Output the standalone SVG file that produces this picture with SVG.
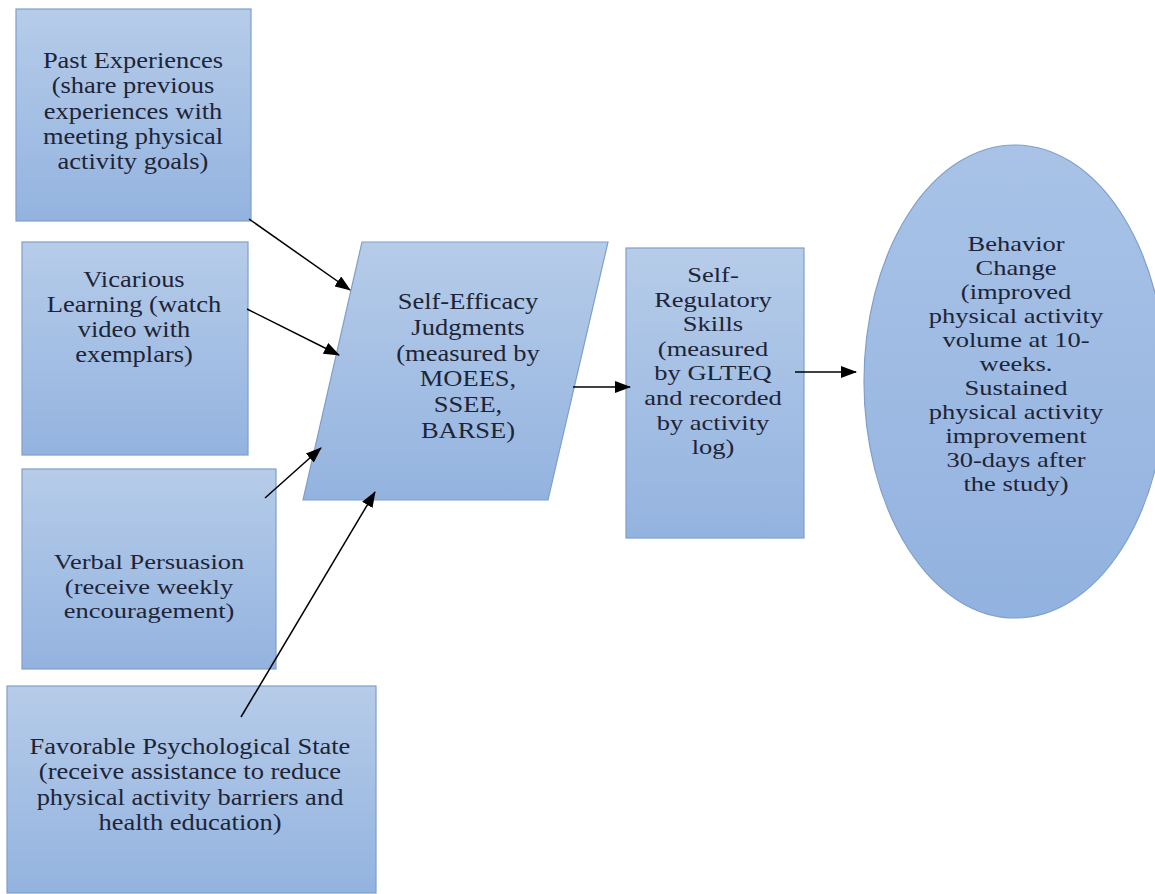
<svg xmlns="http://www.w3.org/2000/svg" width="1155" height="894" viewBox="0 0 1155 894">
<style>
  .node { stroke: #7f9fcb; stroke-width: 1.2; }
  .box { fill: url(#g); }
  .ell { fill: url(#ge); }
  text { font-family: "Liberation Serif", "Times New Roman", serif; font-size: 26.5px; fill: #1e2437; text-anchor: middle; }
  .conn line { stroke: #000; stroke-width: 1.5; marker-end: url(#ah); }
</style>
<defs>
  <linearGradient id="g" x1="0" y1="0" x2="0" y2="1">
    <stop offset="0" stop-color="#b6cce9"/>
    <stop offset="1" stop-color="#93b3df"/>
  </linearGradient>
  <linearGradient id="ge" x1="0" y1="0" x2="0" y2="1">
    <stop offset="0" stop-color="#a9c3e7"/>
    <stop offset="1" stop-color="#92b2df"/>
  </linearGradient>
  <marker id="ah" markerUnits="userSpaceOnUse" markerWidth="16" markerHeight="12" refX="15" refY="6" orient="auto">
    <path d="M0,0 L16,6 L0,12 Z" fill="#000"/>
  </marker>
</defs>
<rect width="1155" height="894" fill="#fff"/>

<g id="past">
  <rect class="node box" x="16" y="9" width="235" height="212"/>
  <text transform="translate(133,68) scale(1,0.843)"><tspan x="0" y="0">Past Experiences</tspan><tspan x="0" y="30">(share previous</tspan><tspan x="0" y="60">experiences with</tspan><tspan x="0" y="90">meeting physical</tspan><tspan x="0" y="120">activity goals)</tspan></text>
</g>

<g id="vicarious">
  <rect class="node box" x="22" y="242" width="226" height="213"/>
  <text transform="translate(134,287) scale(1,0.833)"><tspan x="0" y="0">Vicarious</tspan><tspan x="0" y="30">Learning (watch</tspan><tspan x="0" y="60">video with</tspan><tspan x="0" y="90">exemplars)</tspan></text>
</g>

<g id="verbal">
  <rect class="node box" x="22" y="469" width="254" height="200"/>
  <text transform="translate(149,569) scale(1,0.817)"><tspan x="0" y="0">Verbal Persuasion</tspan><tspan x="0" y="30">(receive weekly</tspan><tspan x="0" y="60">encouragement)</tspan></text>
</g>

<g id="favorable">
  <rect class="node box" x="7" y="686" width="369" height="207"/>
  <text transform="translate(190,754) scale(1,0.843)"><tspan x="0" y="0">Favorable Psychological State</tspan><tspan x="0" y="30">(receive assistance to reduce</tspan><tspan x="0" y="60">physical activity barriers and</tspan><tspan x="0" y="90">health education)</tspan></text>
</g>

<g id="selfefficacy">
  <polygon class="node box" points="362,242 608,242 548,500 303,500"/>
  <text transform="translate(468,309) scale(1,0.86)"><tspan x="0" y="0">Self-Efficacy</tspan><tspan x="0" y="30">Judgments</tspan><tspan x="0" y="60">(measured by</tspan><tspan x="0" y="90">MOEES,</tspan><tspan x="0" y="120">SSEE,</tspan><tspan x="0" y="150">BARSE)</tspan></text>
</g>

<g id="selfregulatory">
  <rect class="node box" x="626" y="248" width="178" height="290"/>
  <text transform="translate(713,282) scale(1,0.82)"><tspan x="0" y="0">Self-</tspan><tspan x="0" y="30">Regulatory</tspan><tspan x="0" y="60">Skills</tspan><tspan x="0" y="90">(measured</tspan><tspan x="0" y="120">by GLTEQ</tspan><tspan x="0" y="150">and recorded</tspan><tspan x="0" y="180">by activity</tspan><tspan x="0" y="210">log)</tspan></text>
</g>

<g id="behavior">
  <ellipse class="node ell" cx="1015" cy="381.5" rx="151" ry="236.5"/>
  <text transform="translate(1016,251) scale(1,0.8)"><tspan x="0" y="0">Behavior</tspan><tspan x="0" y="30">Change</tspan><tspan x="0" y="60">(improved</tspan><tspan x="0" y="90">physical activity</tspan><tspan x="0" y="120">volume at 10-</tspan><tspan x="0" y="150">weeks.</tspan><tspan x="0" y="180">Sustained</tspan><tspan x="0" y="210">physical activity</tspan><tspan x="0" y="240">improvement</tspan><tspan x="0" y="270">30-days after</tspan><tspan x="0" y="300">the study)</tspan></text>
</g>

<g id="connectors" class="conn">
  <line x1="249" y1="219" x2="350" y2="290"/>
  <line x1="247" y1="309" x2="339" y2="355"/>
  <line x1="265" y1="498" x2="321" y2="448"/>
  <line x1="241" y1="717" x2="375" y2="492"/>
  <line x1="573" y1="387" x2="630" y2="387"/>
  <line x1="795" y1="372" x2="856" y2="372"/>
</g>
</svg>
